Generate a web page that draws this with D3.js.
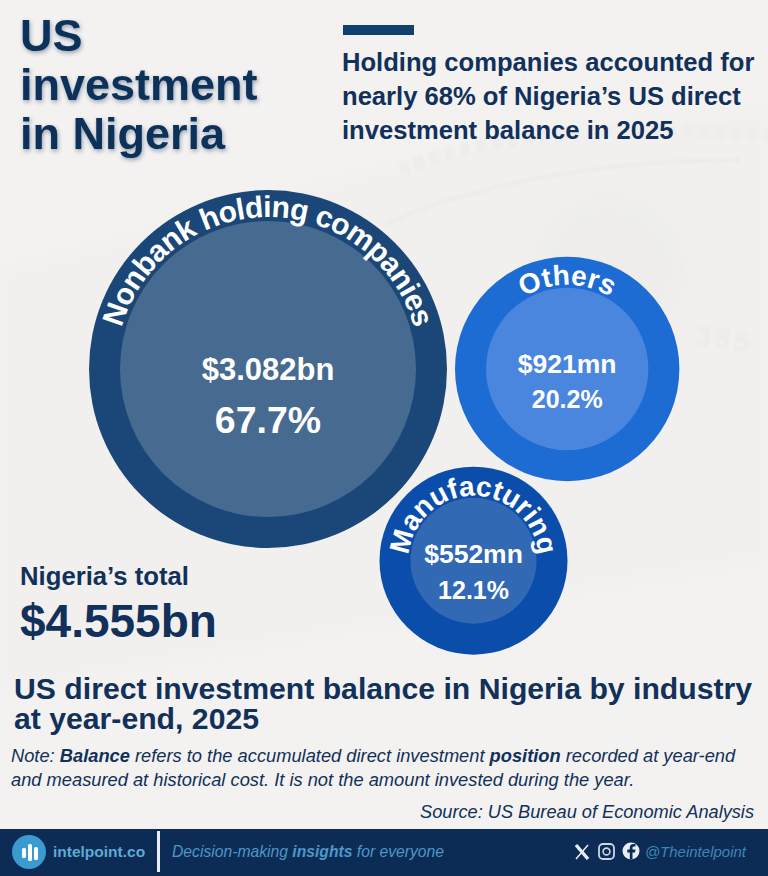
<!DOCTYPE html>
<html>
<head>
<meta charset="utf-8">
<script src="https://cdn.jsdelivr.net/npm/d3@7"></script>
<style>
  html, body { margin: 0; padding: 0; background: #f3f2f0; }
  svg { display: block; font-family: "Liberation Sans", Arial, sans-serif; font-weight: 700; }
</style>
</head>
<body>
<svg width="768" height="876"></svg>
<script>
// chart values
const categories = ["Nonbank holding companies", "Others", "Manufacturing"];
const balances = [3082, 921, 552];
const balanceLabels = ["$3.082bn", "$921mn", "$552mn"];
const shares = ["67.7%", "20.2%", "12.1%"];
const totalLabel = "$4.555bn";

const titleLines = ["US", "investment", "in Nigeria"];
const headlineLines = ["Holding companies accounted for", "nearly 68% of Nigeria\u2019s US direct", "investment balance in 2025"];
const chartTitleLines = ["US direct investment balance in Nigeria by industry", "at year-end, 2025"];

const navy = "#11305a";
const ringColor = d3.scaleOrdinal(categories, ["#1a4777", "#1d6cd3", "#0b4dab"]);
const coreColor = d3.scaleOrdinal(categories, ["#466a90", "#4a86dd", "#3169b5"]);
const labelSize = d3.scaleOrdinal(categories, [30, 28, 28]);
const labelSpacing = d3.scaleOrdinal(categories, [-0.65, 0.1, 0]);
const labelLift = d3.scaleOrdinal(categories, [4, 3, 2]);
const valueSize = d3.scaleOrdinal(categories, [31, 26.5, 26.5]);
const shareSize = d3.scaleOrdinal(categories, [37.5, 25, 25]);

const svg = d3.select("svg");
const defs = svg.append("defs");
defs.append("filter").attr("id", "soft").append("feGaussianBlur").attr("stdDeviation", 9);
defs.append("filter").attr("id", "faint").append("feGaussianBlur").attr("stdDeviation", 1.5);
const shadow = defs.append("filter").attr("id", "shadow")
  .attr("x", "-10%").attr("y", "-10%").attr("width", "120%").attr("height", "130%");
shadow.append("feDropShadow").attr("dx", 1).attr("dy", 2).attr("stdDeviation", 2)
  .attr("flood-color", "#0c2c55").attr("flood-opacity", 0.4);

// faint banknote behind everything
const note = svg.append("g").attr("filter", "url(#soft)");
note.append("path").attr("d", "M0,270 C200,230 420,130 768,110 L768,560 C560,590 300,640 0,690 Z")
  .attr("fill", "#f1f0ee");
note.append("circle").attr("cx", 610).attr("cy", 270).attr("r", 72).attr("fill", "#eeedeb");
svg.append("path").attr("d", "M385,225 C470,185 600,160 740,160").attr("fill", "none")
  .attr("stroke", "#ebeae8").attr("stroke-width", 3).attr("filter", "url(#faint)");
svg.append("path").attr("d", "M400,170 C500,130 620,125 768,135").attr("fill", "none")
  .attr("stroke", "#eeedeb").attr("stroke-width", 14).attr("stroke-dasharray", "9 7").attr("filter", "url(#faint)");
svg.append("text").attr("x", 694).attr("y", 345).attr("font-size", 29)
  .attr("transform", "rotate(8 694 345)").attr("letter-spacing", 3)
  .attr("fill", "#ecebe9").attr("filter", "url(#faint)").text("385");

// size and placement
const radius = d3.scaleSqrt().domain([552, 3082]).range([94, 179]);
const coreInset = 31;
const gap = 8;
const origin = { x: 268, y: 369 };
const bearing = d3.scaleOrdinal(categories, [0, 0, 43]);

const nodes = categories.map((c, i) => {
  const r = radius(balances[i]);
  const dist = i === 0 ? 0 : radius(balances[0]) + r + gap;
  const a = bearing(c) * Math.PI / 180;
  return { name: c, r, value: balanceLabels[i], share: shares[i],
    x: origin.x + dist * Math.cos(a), y: origin.y + dist * Math.sin(a) };
});

const bubble = svg.selectAll("g.bubble").data(nodes).enter().append("g")
  .attr("class", "bubble")
  .attr("transform", d => `translate(${d.x},${d.y})`);

bubble.append("circle").attr("r", d => d.r).attr("fill", d => ringColor(d.name));
bubble.append("circle").attr("r", d => d.r - coreInset).attr("fill", d => coreColor(d.name));

// curved names run along the ring
bubble.append("path")
  .attr("id", (d, i) => "arc" + i)
  .attr("fill", "none")
  .attr("d", d => {
    const b = d.r - coreInset + labelLift(d.name);
    return `M${-b},0 A${b},${b} 0 0 1 ${b},0`;
  });
bubble.append("text")
  .attr("fill", "#fff")
  .attr("font-size", d => labelSize(d.name))
  .attr("letter-spacing", d => labelSpacing(d.name))
  .attr("text-anchor", "middle")
  .append("textPath")
  .attr("href", (d, i) => "#arc" + i)
  .attr("startOffset", "50%")
  .text(d => d.name);

bubble.append("text")
  .attr("fill", "#fff").attr("text-anchor", "middle")
  .attr("font-size", d => valueSize(d.name))
  .attr("y", (d, i) => [11, 4, 2][i])
  .text(d => d.value);
bubble.append("text")
  .attr("fill", "#fff").attr("text-anchor", "middle")
  .attr("font-size", d => shareSize(d.name))
  .attr("y", (d, i) => [64, 39, 38][i])
  .text(d => d.share);

// headings
svg.append("g").attr("filter", "url(#shadow)").selectAll("text").data(titleLines).enter().append("text")
  .attr("x", 20).attr("y", (d, i) => 51 + i * 49)
  .attr("font-size", 45).attr("fill", navy).text(d => d);

svg.append("rect").attr("x", 343).attr("y", 25).attr("width", 71).attr("height", 10).attr("fill", "#0f4070");
svg.append("g").selectAll("text").data(headlineLines).enter().append("text")
  .attr("x", 342).attr("y", (d, i) => 71 + i * 34)
  .attr("font-size", 25.6).attr("fill", navy).text(d => d);

svg.append("text").attr("x", 20).attr("y", 585).attr("font-size", 25.7).attr("fill", navy).text("Nigeria\u2019s total");
svg.append("text").attr("x", 20).attr("y", 637).attr("font-size", 46).attr("fill", navy).text(totalLabel);

svg.append("g").selectAll("text").data(chartTitleLines).enter().append("text")
  .attr("x", 14).attr("y", (d, i) => 698.5 + i * 30)
  .attr("font-size", 30.2).attr("fill", navy).text(d => d);

// note and source
const note1 = svg.append("text").attr("x", 11).attr("y", 762).attr("font-size", 18.3).attr("fill", navy).attr("font-style", "italic");
note1.append("tspan").attr("font-weight", 400).text("Note: ");
note1.append("tspan").text("Balance");
note1.append("tspan").attr("font-weight", 400).text(" refers to the accumulated direct investment ");
note1.append("tspan").text("position");
note1.append("tspan").attr("font-weight", 400).text(" recorded at year-end");
svg.append("text").attr("x", 11).attr("y", 786).attr("font-size", 18.3).attr("fill", navy)
  .attr("font-style", "italic").attr("font-weight", 400)
  .text("and measured at historical cost. It is not the amount invested during the year.");
svg.append("text").attr("x", 754).attr("y", 818).attr("text-anchor", "end").attr("font-size", 18.2)
  .attr("fill", navy).attr("font-style", "italic").attr("font-weight", 400)
  .text("Source: US Bureau of Economic Analysis");

// footer strip
const foot = svg.append("g");
foot.append("rect").attr("x", 0).attr("y", 829).attr("width", 768).attr("height", 47).attr("fill", "#0c2c55");
foot.append("circle").attr("cx", 29).attr("cy", 852).attr("r", 17).attr("fill", "#3a9bd0");
foot.selectAll("rect.logo").data([[22, 848, 10], [28, 844, 17], [34, 847, 13]]).enter().append("rect")
  .attr("class", "logo").attr("rx", 1.5)
  .attr("x", d => d[0]).attr("y", d => d[1]).attr("width", 4).attr("height", d => d[2]).attr("fill", "#fff");
foot.append("text").attr("x", 53).attr("y", 857).attr("font-size", 15.5).attr("fill", "#5fa9d6").text("intelpoint.co");
foot.append("rect").attr("x", 157).attr("y", 831).attr("width", 3).attr("height", 41).attr("fill", "#e8eef4");
const tag = foot.append("text").attr("x", 172).attr("y", 857).attr("font-size", 15.7).attr("fill", "#4d97c9").attr("font-style", "italic");
tag.append("tspan").attr("font-weight", 400).text("Decision-making ");
tag.append("tspan").text("insights");
tag.append("tspan").attr("font-weight", 400).text(" for everyone");
foot.append("text").attr("x", 746).attr("y", 857).attr("text-anchor", "end").attr("font-size", 15)
  .attr("fill", "#3f86b8").attr("font-style", "italic").attr("font-weight", 400).text("@Theintelpoint");

// social icons
foot.append("path").attr("d", "M576,845 L588,859").attr("stroke", "#e8eef4").attr("stroke-width", 3.4).attr("fill", "none");
foot.append("path").attr("d", "M588,845 L576,859").attr("stroke", "#e8eef4").attr("stroke-width", 1.5).attr("fill", "none");
foot.append("rect").attr("x", 599).attr("y", 844).attr("width", 15).attr("height", 15).attr("rx", 4)
  .attr("fill", "none").attr("stroke", "#c9d8e6").attr("stroke-width", 1.8);
foot.append("circle").attr("cx", 606.5).attr("cy", 851.5).attr("r", 3.4)
  .attr("fill", "none").attr("stroke", "#c9d8e6").attr("stroke-width", 1.6);
foot.append("circle").attr("cx", 631).attr("cy", 851).attr("r", 8.5).attr("fill", "#e8eef4");
foot.append("path").attr("d", "M632.5,859.5 L632.5,852.5 L635,852.5 L635.5,849.5 L632.5,849.5 L632.5,847.8 Q632.5,846.5 634,846.5 L635.5,846.5 L635.5,844 L633.5,844 Q629.8,844 629.8,847.6 L629.8,849.5 L627.3,849.5 L627.3,852.5 L629.8,852.5 L629.8,859.5 Z").attr("fill", "#0c2c55");
</script>
</body>
</html>
